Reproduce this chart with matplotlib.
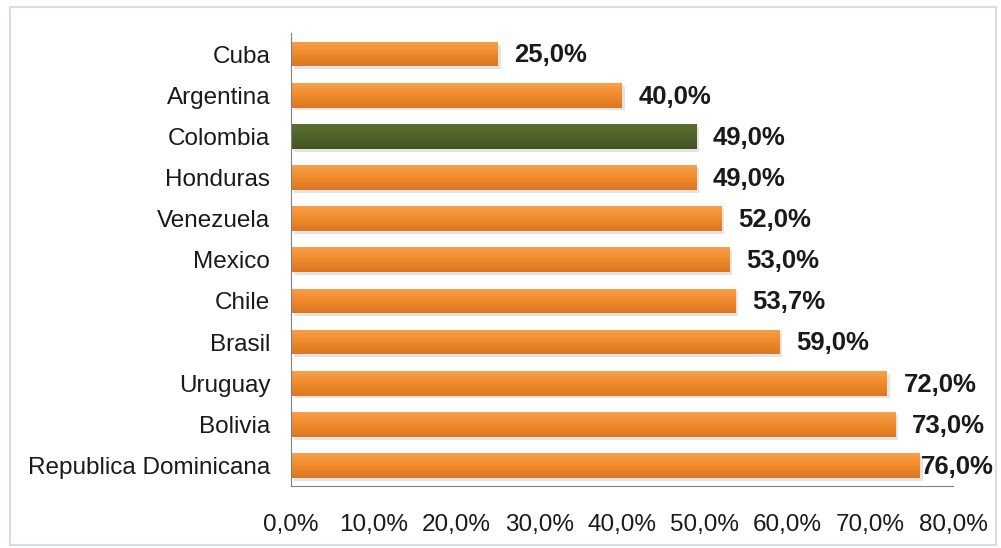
import numpy as np
import matplotlib.pyplot as plt
from matplotlib.patches import Rectangle
from matplotlib.colors import LinearSegmentedColormap

paises = ['Cuba', 'Argentina', 'Colombia', 'Honduras', 'Venezuela', 'Mexico',
          'Chile', 'Brasil', 'Uruguay', 'Bolivia', 'Republica Dominicana']
valores = [25.0, 40.0, 49.0, 49.0, 52.0, 53.0, 53.7, 59.0, 72.0, 73.0, 76.0]
destacado = 'Colombia'
ticks = [0, 10, 20, 30, 40, 50, 60, 70, 80]

cmap_naranja = LinearSegmentedColormap.from_list('nar', ['#F9A04A', '#F08A2C', '#DB7622'])
cmap_verde = LinearSegmentedColormap.from_list('ver', ['#5B702F', '#4F6228', '#435424'])

fig = plt.figure(figsize=(10.01, 5.48), dpi=100)
fig.patch.set_facecolor('white')
# marco claro alrededor del grafico
fig.patches.append(Rectangle((0.010, 0.005), 0.985, 0.982, transform=fig.transFigure,
                             fill=False, edgecolor='#D6DCE8', linewidth=1.5))

ax = fig.add_axes([0.2907, 0.1131, 0.6613, 0.8258])
pos = list(range(len(paises)))
alto = 0.6

# sombra debajo de cada barra
ax.barh([p + 0.07 for p in pos], valores, height=alto, color='#C8C8C8', alpha=0.5,
        zorder=1, left=0.35)
barras = ax.barh(pos, valores, height=alto, color='none', zorder=2)

# degradado: claro arriba, oscuro abajo
grad = np.linspace(1, 0, 64).reshape(-1, 1)
for b, p in zip(barras, paises):
    cm = cmap_verde if p == destacado else cmap_naranja
    x0, y0 = b.get_x(), b.get_y()
    im = ax.imshow(grad, cmap=cm, aspect='auto', zorder=2,
                   extent=[x0, x0 + b.get_width(), y0, y0 + b.get_height()])
    im.set_clip_path(b)

for p, v in zip(pos, valores):
    off = 1 if v > 75 else 12
    ax.annotate(f'{v:.1f}%'.replace('.', ','), (v, p), xytext=(off, -1),
                textcoords='offset points', va='center', ha='left',
                fontsize=18.5, fontweight='bold', color='#1a1a1a',
                family='Liberation Sans', annotation_clip=False)

ax.set_xlim(0, 80)
ax.set_ylim(len(paises) - 0.5, -0.5)
ax.set_yticks(pos)
ax.set_yticklabels(paises, fontsize=17.5, family='Liberation Sans', color='#1a1a1a')
ax.set_xticks(ticks)
ax.set_xticklabels([f'{t:.1f}%'.replace('.', ',') for t in ticks], fontsize=17.5,
                   family='Liberation Sans', color='#1a1a1a')
ax.tick_params(axis='y', length=0, pad=15)
ax.tick_params(axis='x', length=0, pad=20)

for s in ['top', 'right']:
    ax.spines[s].set_visible(False)
ax.spines['left'].set_color('#808080')
ax.spines['bottom'].set_color('#808080')

fig.savefig('out.png', dpi=100)
